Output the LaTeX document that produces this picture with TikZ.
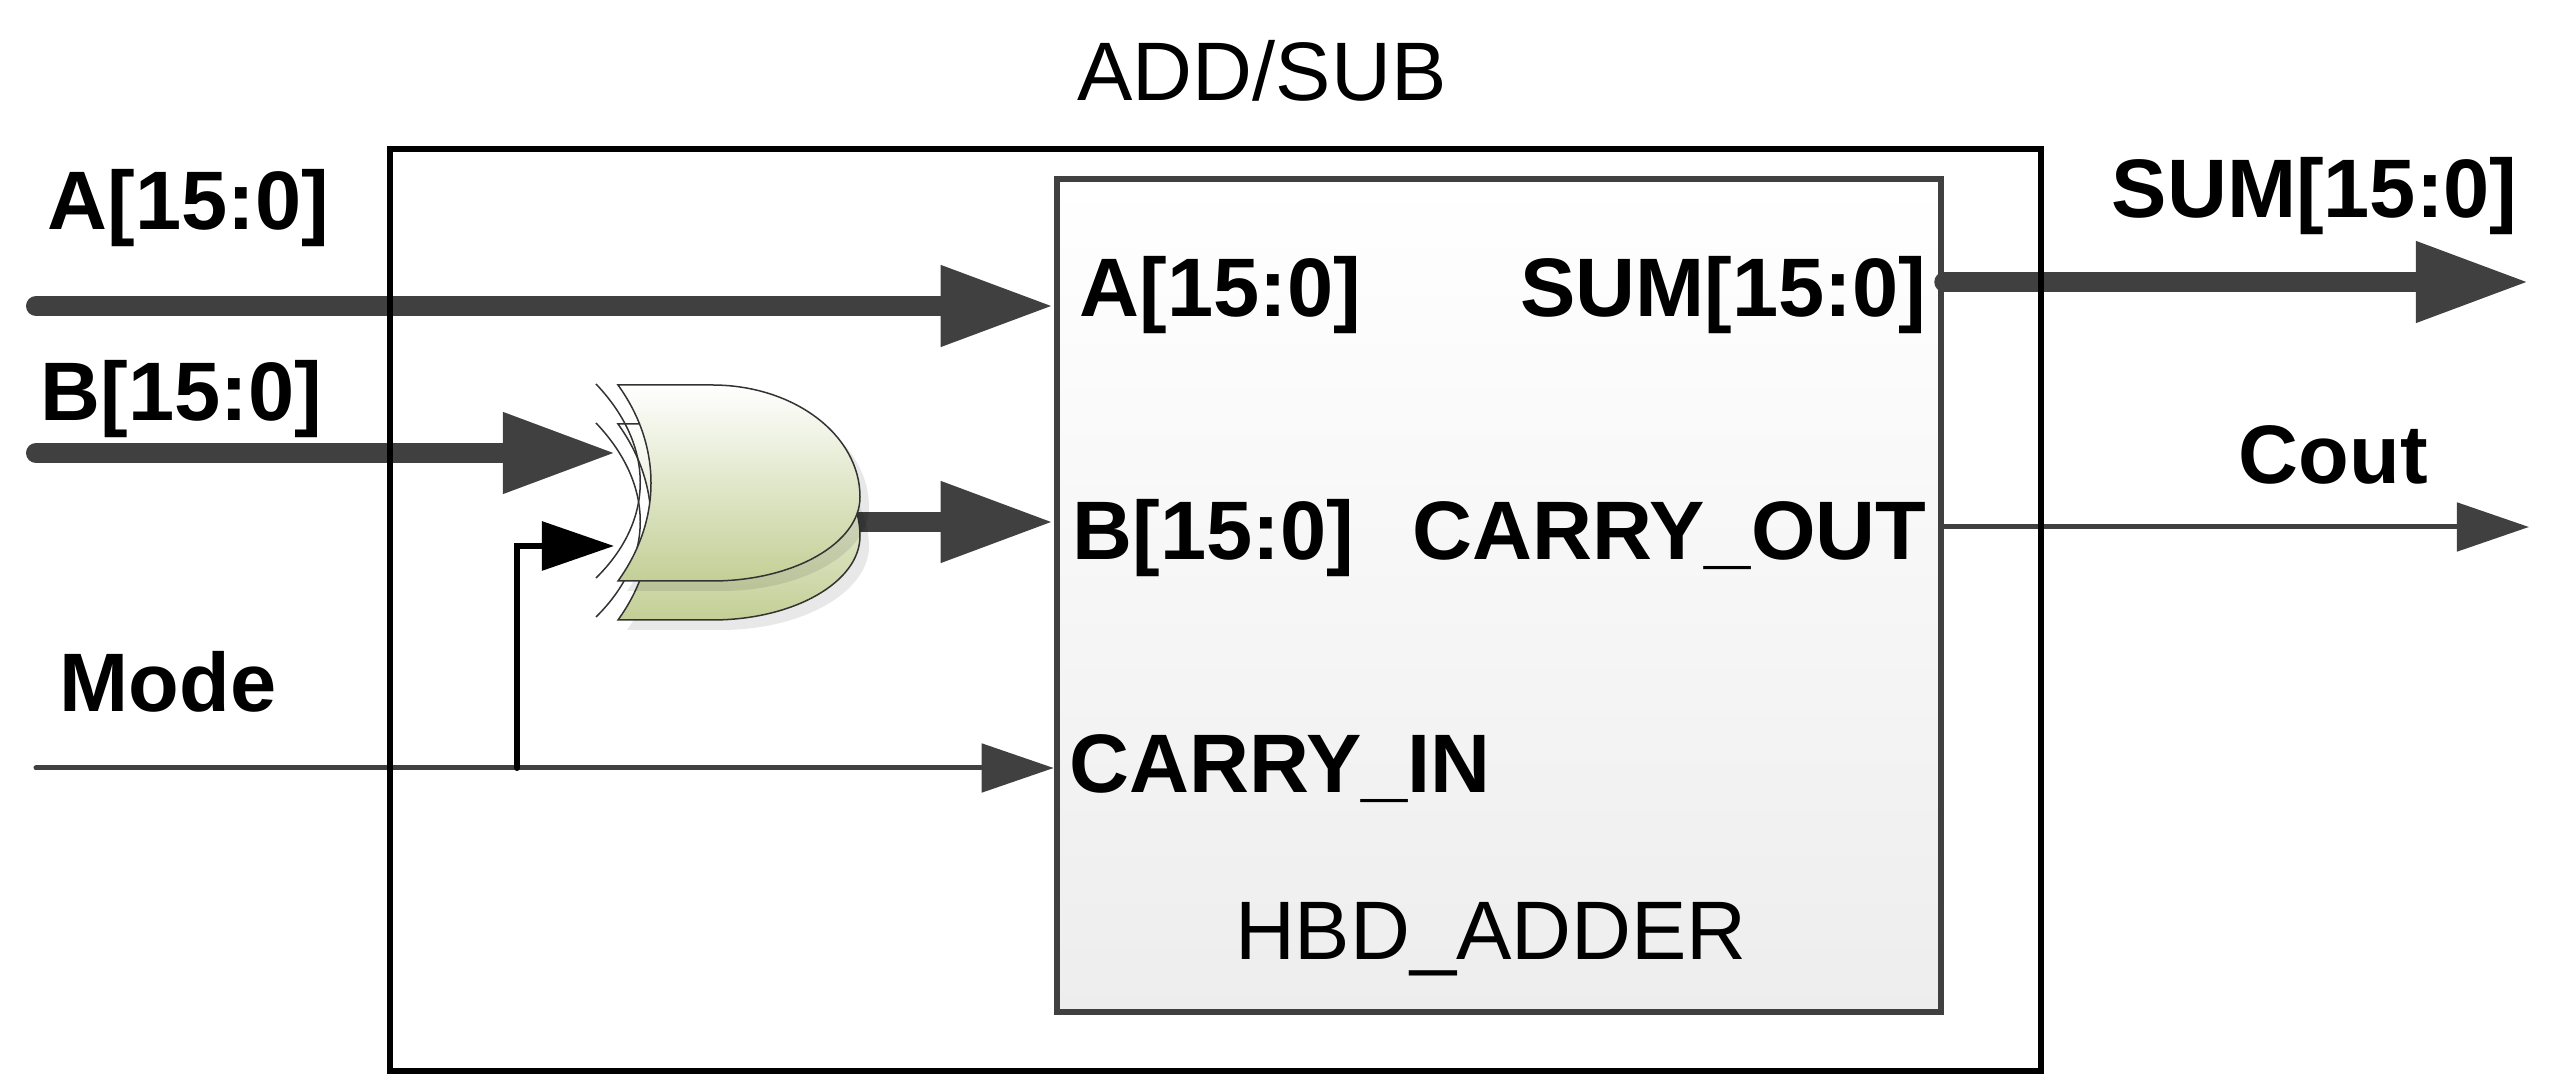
\documentclass[tikz,border=0pt]{standalone}
\usepackage{fontspec}
\setmainfont{Liberation Sans}
\usetikzlibrary{arrows.meta,positioning}

\definecolor{wiregray}{RGB}{64,64,64}
\definecolor{gategreen}{RGB}{195,207,150}
\definecolor{edgegray}{RGB}{51,51,51}

\newcommand{\labelfont}{\fontsize{23.6pt}{28pt}\selectfont}
% outline of one XOR body, in pixel units
\def\gateoutline{(618,385) -- (712,385) .. controls (794,385) and (860,435) .. (860,497)
  .. controls (860,543) and (794,581) .. (712,581) -- (618,581)
  .. controls (662,520) and (662,446) .. (618,385) -- cycle}
\newcommand{\xorgate}[1]{%
  \begin{scope}[shift={(0,#1)}]
    \fill[black,opacity=0.09,shift={(9,10)}] \gateoutline;
    \draw[edgegray,line width=0.015cm] (596,384) .. controls (655,446) and (655,520) .. (596,578);
    \draw[edgegray,line width=0.015cm,top color=white,middle color=gategreen!45,bottom color=gategreen] \gateoutline;
  \end{scope}}

\tikzset{
  bus/.style={wiregray,line width=0.2cm,-{Triangle[length=1.13cm,width=0.76cm]}},
  wire/.style={wiregray,line width=0.05cm,-{Triangle[length=0.72cm,width=0.48cm]}},
  ctrl/.style={black,line width=0.06cm,line cap=round,-{Triangle[length=0.72cm,width=0.48cm]}},
  pin/.style={font=\labelfont\bfseries,inner sep=0pt},
  blockname/.style={font=\labelfont,inner sep=0pt},
}

\begin{document}
\begin{tikzpicture}[x=0.01cm,y=-0.01cm]
\useasboundingbox (0,0) rectangle (2560,1077);
\node[draw=wiregray,line width=0.06cm,top color=white,bottom color=gray!14,
  minimum width=8.84cm,minimum height=8.33cm,inner sep=0pt] (adder) at (1499,595.5) {};

\coordinate (srcA) at (36,306);
\coordinate (srcB) at (36,453);
\coordinate (srcM) at (36,768);
\coordinate (tap) at (517,768);
\coordinate (xinB) at (616,453);
\coordinate (xinM) at (614,546);
\coordinate (xout) at (850,522);
\coordinate (dstS) at (2529,282);
\coordinate (dstC) at (2529,527);

\draw[bus,line cap=round] (srcA) -- (srcA -| adder.west);
\draw[bus,line cap=round] (srcB) -- (xinB);
\draw[bus] (xout) -- (xout -| adder.west);
\draw[wire,line cap=round] (srcM) -- (srcM -| adder.west);
\draw[ctrl] (tap) |- (xinM);
\draw[bus,line cap=round] (dstS -| adder.east) -- (dstS);
\draw[wire] (dstC -| adder.east) -- (dstC);

\xorgate{39}
\xorgate{0}

\node[draw=black,line width=0.06cm,minimum width=16.5cm,minimum height=9.22cm] (addsub) at (1215,610) {};

\node[blockname,anchor=base] (title) at (1262,101) {ADD/SUB};
\node[pin,anchor=base west] (lblA) at (47,230) {A[15:0]};
\node[pin,anchor=base west] (lblB) at (40,421) {B[15:0]};
\node[pin,anchor=base west] (lblMode) at (59,712) {Mode};
\node[pin,anchor=base west] (lblSum) at (2111,218) {SUM[15:0]};
\node[pin,anchor=base west] (lblCout) at (2238,484) {Cout};
\node[pin,anchor=base west] (pinA) at (1079,317) {A[15:0]};
\node[pin,anchor=base west] (pinB) at (1072,560) {B[15:0]};
\node[pin,anchor=base west] (pinCin) at (1069,793) {CARRY\_IN};
\node[pin,anchor=base east] (pinSum) at (1927,317) {SUM[15:0]};
\node[pin,anchor=base east] (pinCout) at (1927,560) {CARRY\_OUT};
\node[blockname,anchor=base] (adname) at (1491,960) {HBD\_ADDER};
\end{tikzpicture}
\end{document}
